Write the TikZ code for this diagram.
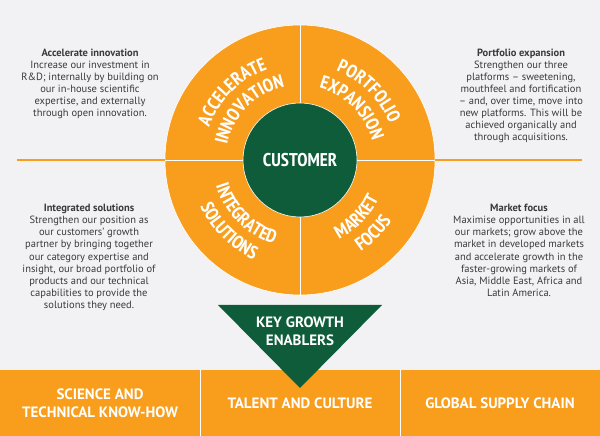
\documentclass[tikz,border=0pt]{standalone}
\usepackage{fontspec}
\setmainfont{PT Sans}
\newfontfamily\narrowface{PT Sans Narrow}
\usetikzlibrary{positioning,decorations.text}
\definecolor{tlorange}{RGB}{248,158,28}
\definecolor{tlgreen}{RGB}{15,92,58}
\definecolor{tlpaper}{RGB}{242,242,244}
\definecolor{tltext}{RGB}{58,58,62}
\newcommand{\ringfont}{\narrowface\fontsize{18.5}{18.5}\selectfont\bfseries}
\newcommand{\bandfont}{\fontsize{15}{18}\selectfont\bfseries}
\newcommand{\blurbfont}{\fontsize{10.5}{12.1}\selectfont}

\begin{document}
\begin{tikzpicture}[x=1pt,y=1pt,
		blurb/.style={anchor=north,align=center,inner sep=0pt,text=tltext,font=\blurbfont},
		band/.style={rectangle,fill=tlorange,minimum width=200,minimum height=66,inner sep=0pt,align=center,text=white,font=\bandfont},
		ringtext/.style={decorate,decoration={text along path,text align=center,text={|\ringfont\color{white}|#1}}},
		divider/.style={white,line width=0.8pt}]
	\useasboundingbox[fill=tlpaper] (0,0) rectangle (600,436);

	\node[circle,fill=tlorange,draw=white,line width=0.6pt,minimum size=270,inner sep=0pt]	(ring)	at (300,276)	{};
	\coordinate	(lend)	at (17,276);
	\coordinate	(rend)	at (582,276);
	\draw[tlorange,line width=1.2pt] (ring.west) -- (lend);
	\draw[tlorange,line width=1.2pt] (ring.east) -- (rend);
	\draw[divider] (ring.north) -- (ring.south);
	\draw[divider] (ring.west) -- (ring.east);
	\node[circle,fill=tlgreen,draw=white,line width=0.6pt,minimum size=114,inner sep=0pt,text=white,font=\ringfont]	(hub)	at (ring.center)	{CUSTOMER};

	\begin{scope}[shift={(ring.center)}]
		\path[ringtext={ACCELERATE}]	(175:96.5) arc[start angle=175,end angle=95,radius=96.5];
		\path[ringtext={INNOVATION}]	(175:74.5) arc[start angle=175,end angle=95,radius=74.5];
		\path[ringtext={PORTFOLIO}]		(85:96.5) arc[start angle=85,end angle=5,radius=96.5];
		\path[ringtext={EXPANSION}]		(85:74.5) arc[start angle=85,end angle=5,radius=74.5];
		\path[ringtext={INTEGRATED}]	(185:88) arc[start angle=185,end angle=265,radius=88];
		\path[ringtext={SOLUTIONS}]		(185:110) arc[start angle=185,end angle=265,radius=110];
		\path[ringtext={MARKET}]		(275:88) arc[start angle=275,end angle=355,radius=88];
		\path[ringtext={FOCUS}]			(275:110) arc[start angle=275,end angle=355,radius=110];
	\end{scope}

	\node[blurb]	(innov)	at (90,387.5)	{\textbf{Accelerate innovation}\\Increase our investment in\\R\&D; internally by building on\\our in-house scientific\\expertise, and externally\\through open innovation.};
	\node[blurb]	(port)	at (521,387.5)	{\textbf{Portfolio expansion}\\Strengthen our three\\platforms – sweetening,\\mouthfeel and fortification\\– and, over time, move into\\new platforms. This will be\\achieved organically and\\through acquisitions.};
	\node[blurb]	(integ)	at (89,232)		{\textbf{Integrated solutions}\\Strengthen our position as\\our customers’ growth\\partner by bringing together\\our category expertise and\\insight, our broad portfolio of\\products and our technical\\capabilities to provide the\\solutions they need.};
	\node[blurb]	(market)	at (519,232)	{\textbf{Market focus}\\Maximise opportunities in all\\our markets; grow above the\\market in developed markets\\and accelerate growth in the\\faster-growing markets of\\Asia, Middle East, Africa and\\Latin America.};

	\node[band]	(science)	at (100,33)	{SCIENCE AND\\TECHNICAL KNOW-HOW};
	\node[band]	(talent)	at (300,33)	{TALENT AND CULTURE};
	\node[band]	(supply)	at (500,33)	{GLOBAL SUPPLY CHAIN};
	\draw[divider] (science.north east) -- (science.south east);
	\draw[divider] (talent.north east) -- (talent.south east);

	\coordinate	(tl)	at (218,131);
	\coordinate	(tr)	at (382,131);
	\coordinate	(tip)	at (300,48);
	\fill[tlgreen] (tl) -- (tr) -- (tip) -- cycle;
	\node[align=center,text=white,font=\bandfont,inner sep=0pt]	(enablers)	at (300,105)	{KEY GROWTH\\ENABLERS};
\end{tikzpicture}
\end{document}
